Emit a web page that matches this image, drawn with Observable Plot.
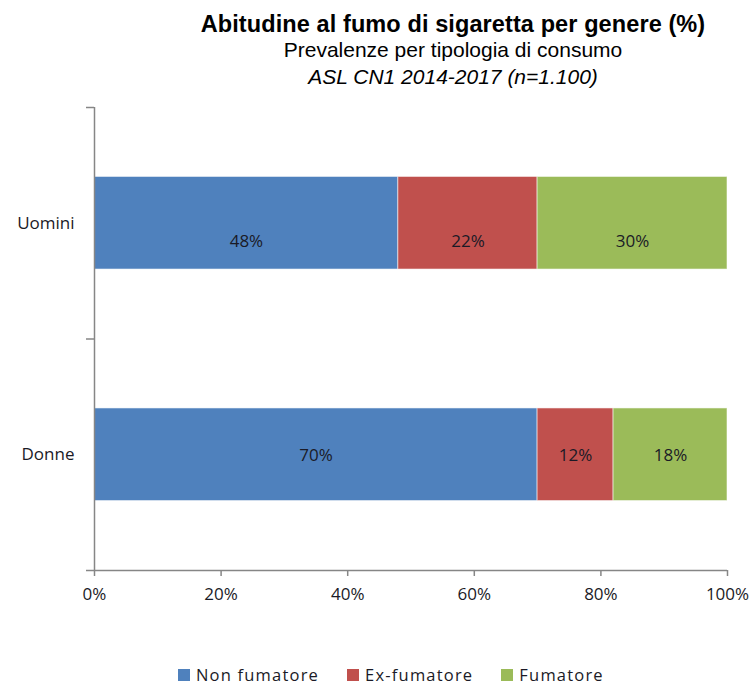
<!DOCTYPE html>
<html lang="it">
<head>
<meta charset="utf-8">
<script src="https://cdn.jsdelivr.net/npm/d3@7"></script>
<script src="https://cdn.jsdelivr.net/npm/@observablehq/plot@0.6"></script>
<style>
  html, body { margin: 0; padding: 0; background: #fff; }
  #wrap { width: 752px; height: 687px; position: relative; overflow: hidden; }
  #titles {
    box-sizing: border-box; width: 752px; height: 90px;
    padding: 10.5px 0 0 154px; text-align: center;
    font-family: "Liberation Sans", Arial, sans-serif; color: #000;
  }
  #titles div { line-height: 26.5px; white-space: nowrap; }
  #titles .t1 { font-size: 23.5px; font-weight: bold; letter-spacing: 0.1px; }
  #titles .t2 { font-size: 21px; }
  #titles .t3 { font-size: 21px; font-style: italic; }
  #legend {
    position: absolute; left: 0; top: 667px; width: 752px; height: 16px;
    display: flex; justify-content: flex-start; padding-left: 178px; box-sizing: border-box;
    font-family: "Open Sans", sans-serif; font-size: 16.5px; line-height: 16px;
    letter-spacing: 1.2px; color: #1a1a26;
  }
  .item { display: flex; align-items: center; margin-right: 28px; white-space: nowrap; }
  .sw { width: 12px; height: 12px; margin-right: 6px; }
</style>
</head>
<body>
<div id="wrap">
  <div id="titles">
    <div class="t1">Abitudine al fumo di sigaretta per genere (%)</div>
    <div class="t2">Prevalenze per tipologia di consumo</div>
    <div class="t3">ASL CN1 2014-2017 (n=1.100)</div>
  </div>
  <div id="chart"></div>
  <div id="legend"></div>
</div>
<script>
// Smoking habits by gender (percent of respondents)
const genders = ["Uomini", "Donne"];
const categories = ["Non fumatore", "Ex-fumatore", "Fumatore"];
const nonFumatore = [48, 70];
const exFumatore = [22, 12];
const fumatore = [30, 18];
const colors = ["#4F81BD", "#C0504D", "#9BBB59"];
const xTicks = [0, 20, 40, 60, 80, 100];

// One row per gender × category, with cumulative start/end along the 0–100% axis
const rows = genders.flatMap((g, i) => {
  const values = [nonFumatore[i], exFumatore[i], fumatore[i]];
  const ends = d3.cumsum(values);
  return values.map((v, j) => ({
    gender: g, row: i, category: categories[j], value: v,
    start: ends[j] - v, end: ends[j]
  }));
});

const axisColor = "#868686";
const textColor = "#1a1a26";
const fontSize = 17;
const spacing = "1.5px";
const labelText = d => `${d.value}%`;
const mid = d => (d.start + d.end) / 2;

const chart = Plot.plot({
  width: 752,
  height: 530,
  marginTop: 17,
  marginBottom: 50,
  marginLeft: 94,
  marginRight: 25,
  x: {domain: [0, 100]},
  y: {domain: [0, genders.length], reverse: true},
  color: {domain: categories, range: colors},
  style: {fontFamily: "Open Sans, sans-serif", fontSize: `${fontSize}px`, color: textColor, background: "#fff", overflow: "visible"},
  marks: [
    Plot.rect(rows, {
      x1: "start", x2: "end",
      y1: d => d.row + 0.3, y2: d => d.row + 0.7,
      fill: "category", stroke: "#ffffff", strokeOpacity: 0.55, strokeWidth: 1
    }),
    Plot.text(rows.filter(d => d.gender === "Uomini"), {
      x: mid, y: d => d.row + 0.5, text: labelText, dy: 18, fill: textColor,
      fontSize, letterSpacing: spacing
    }),
    Plot.text(rows.filter(d => d.gender === "Donne"), {
      x: mid, y: d => d.row + 0.5, text: labelText, dy: 1, fill: textColor,
      fontSize, letterSpacing: spacing
    }),
    // category boundaries on the vertical axis
    Plot.axisY({
      ticks: d3.range(genders.length + 1), tickFormat: () => "", tickSize: 8,
      stroke: axisColor, strokeWidth: 1.5, label: null
    }),
    // category names centred in each band
    Plot.axisY({
      ticks: genders.map((g, i) => i + 0.5), tickFormat: v => genders[Math.floor(v)],
      tickSize: 0, tickPadding: 20, label: null, fill: textColor,
      fontSize, letterSpacing: spacing
    }),
    Plot.axisX({
      ticks: xTicks, tickFormat: d => `${d}%`, tickSize: 6, tickPadding: 11,
      stroke: axisColor, strokeWidth: 1.5, label: null, fill: textColor,
      fontSize, letterSpacing: spacing
    }),
    Plot.ruleX([0], {y1: 0, y2: genders.length, stroke: axisColor, strokeWidth: 1.5}),
    Plot.ruleY([genders.length], {stroke: axisColor, strokeWidth: 1.5})
  ]
});
document.getElementById("chart").appendChild(chart);

// Legend built from the same categories and colours
const legend = d3.select("#legend");
categories.forEach((c, i) => {
  const item = legend.append("div").attr("class", "item");
  item.append("div").attr("class", "sw").style("background", colors[i]);
  item.append("span").text(c);
});
</script>
</body>
</html>
